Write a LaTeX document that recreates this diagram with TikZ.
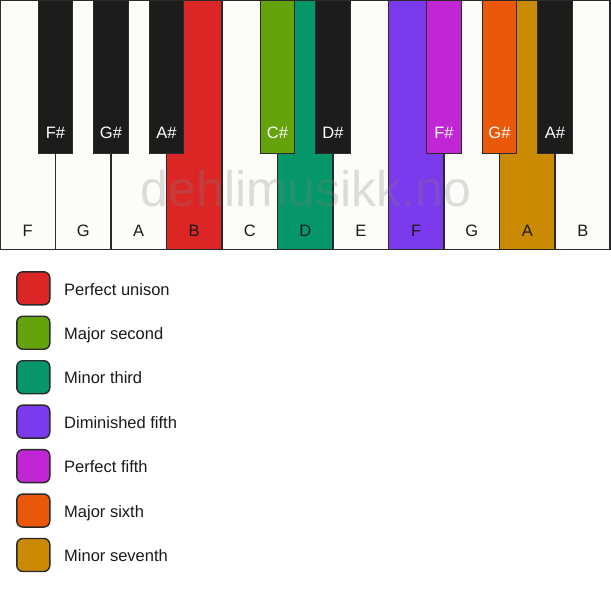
\documentclass[tikz,border=0pt]{standalone}
\usepackage{fontspec}
\setmainfont{Liberation Sans}
\definecolor{keywhite}{HTML}{FDFCF9}
\definecolor{keyblack}{HTML}{1C1C1A}
\definecolor{keyline}{HTML}{2A2A2A}
\definecolor{cRed}{HTML}{DC2626}
\definecolor{cLime}{HTML}{65A30D}
\definecolor{cTeal}{HTML}{059669}
\definecolor{cViolet}{HTML}{7C3AED}
\definecolor{cFuchsia}{HTML}{C026D3}
\definecolor{cOrange}{HTML}{EA580C}
\definecolor{cGold}{HTML}{CA8A04}
\definecolor{txt}{HTML}{1A1A1A}
\tikzset{
  whitekey/.style={draw=keyline, line width=1.4pt, fill=keywhite, anchor=north west,
    minimum width=55.5pt, minimum height=249pt, inner sep=0pt, outer sep=0pt},
  blackkey/.style={draw=keyline, line width=1.4pt, fill=keyblack, anchor=north,
    minimum width=34.5pt, minimum height=152.5pt, inner sep=0pt, outer sep=0pt},
  wlabel/.style={text=txt, font=\fontsize{16.5}{19}\selectfont, anchor=base, inner sep=0pt},
  blabel/.style={text=white, font=\fontsize{16.5}{19}\selectfont, anchor=base, inner sep=0pt},
  swatch/.style={draw=keyline, line width=1.4pt, rounded corners=6pt,
    minimum width=33pt, minimum height=33pt, inner sep=0pt},
  legtext/.style={text=txt, font=\fontsize{16.5}{19}\selectfont, anchor=base west, inner sep=0pt},
  watermark/.style={text=gray, opacity=0.26, font=\fontsize{50}{54}\selectfont, anchor=base, inner sep=0pt}
}
\begin{document}
\begin{tikzpicture}[x=1pt,y=-1pt]
\useasboundingbox[fill=white] (0,0) rectangle (611,594);
% white keys
\node[whitekey] (w1) at (0.7,0.7) {};
\node[whitekey] (w2) at (55.5,0.7) {};
\node[whitekey] (w3) at (111,0.7) {};
\node[whitekey, fill=cRed] (w4) at (166.5,0.7) {};
\node[whitekey] (w5) at (222,0.7) {};
\node[whitekey, fill=cTeal] (w6) at (277.5,0.7) {};
\node[whitekey] (w7) at (333,0.7) {};
\node[whitekey, fill=cViolet] (w8) at (388.5,0.7) {};
\node[whitekey] (w9) at (444,0.7) {};
\node[whitekey, fill=cGold] (w10) at (499.5,0.7) {};
\node[whitekey, minimum width=54.8pt] (w11) at (555,0.7) {};
% watermark
\node[watermark] (wm) at (306,206.5) {dehlimusikk.no};
% white key labels
\node[wlabel] (lF1) at (27.75,236) {F};
\node[wlabel] (lG1) at (83.25,236) {G};
\node[wlabel] (lA1) at (138.75,236) {A};
\node[wlabel] (lB1) at (194.25,236) {B};
\node[wlabel] (lC) at (249.75,236) {C};
\node[wlabel] (lD) at (305.25,236) {D};
\node[wlabel] (lE) at (360.75,236) {E};
\node[wlabel] (lF2) at (416.25,236) {F};
\node[wlabel] (lG2) at (471.75,236) {G};
\node[wlabel] (lA2) at (527.25,236) {A};
\node[wlabel] (lB2) at (582.75,236) {B};
% black keys
\node[blackkey] (b1) at (55.5,0.7) {};
\node[blackkey] (b2) at (111,0.7) {};
\node[blackkey] (b3) at (166.5,0.7) {};
\node[blackkey, fill=cLime] (b4) at (277.5,0.7) {};
\node[blackkey] (b5) at (333,0.7) {};
\node[blackkey, fill=cFuchsia] (b6) at (444,0.7) {};
\node[blackkey, fill=cOrange] (b7) at (499.5,0.7) {};
\node[blackkey] (b8) at (555,0.7) {};
% black key labels
\node[blabel] (lb1) at (55.5,139) {F\#};
\node[blabel] (lb2) at (111,139) {G\#};
\node[blabel] (lb3) at (166.5,139) {A\#};
\node[blabel] (lb4) at (277.5,139) {C\#};
\node[blabel] (lb5) at (333,139) {D\#};
\node[blabel] (lb6) at (444,139) {F\#};
\node[blabel] (lb7) at (499.5,139) {G\#};
\node[blabel] (lb8) at (555,139) {A\#};
% legend
\node[swatch, fill=cRed] (s1) at (33.3,288.3) {};
\node[legtext] (t1) at (64,295) {Perfect unison};
\node[swatch, fill=cLime] (s2) at (33.3,332.75) {};
\node[legtext] (t2) at (64,339.45) {Major second};
\node[swatch, fill=cTeal] (s3) at (33.3,377.2) {};
\node[legtext] (t3) at (64,383.9) {Minor third};
\node[swatch, fill=cViolet] (s4) at (33.3,421.65) {};
\node[legtext] (t4) at (64,428.35) {Diminished fifth};
\node[swatch, fill=cFuchsia] (s5) at (33.3,466.1) {};
\node[legtext] (t5) at (64,472.8) {Perfect fifth};
\node[swatch, fill=cOrange] (s6) at (33.3,510.55) {};
\node[legtext] (t6) at (64,517.25) {Major sixth};
\node[swatch, fill=cGold] (s7) at (33.3,555) {};
\node[legtext] (t7) at (64,561.7) {Minor seventh};
\end{tikzpicture}
\end{document}
